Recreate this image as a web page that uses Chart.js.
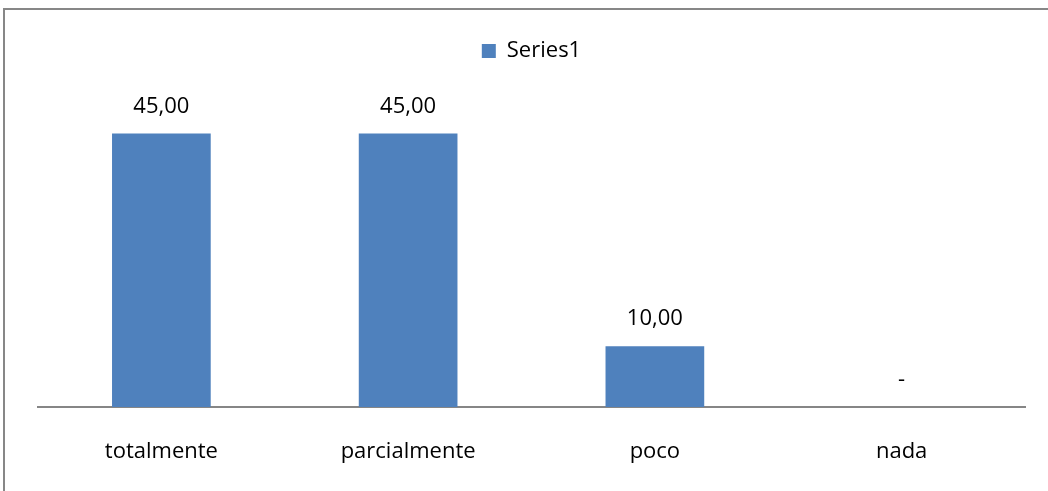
<!DOCTYPE html>
<html>
<head>
<meta charset="utf-8">
<script src="https://cdn.jsdelivr.net/npm/chart.js@4"></script>
<style>
  html, body { margin: 0; padding: 0; background: #fff; }
  #wrap { position: relative; width: 1048px; height: 491px; overflow: hidden; }
  #frame { position: absolute; left: 3px; top: 8px; width: 1100px; height: 600px; border: 2px solid #878787; box-sizing: border-box; }
  canvas { position: absolute; left: 0; top: 0; }
</style>
</head>
<body>
<div id="wrap">
  <div id="frame"></div>
  <canvas id="c" width="1048" height="491"></canvas>
</div>
<script>
const categories = ["totalmente", "parcialmente", "poco", "nada"];
const seriesName = "Series1";
const values = [45, 45, 10, 0];

const FONT = "'Open Sans'";

const valueLabels = {
  id: 'valueLabels',
  afterDatasetsDraw(chart) {
    const ctx = chart.ctx;
    const meta = chart.getDatasetMeta(0);
    ctx.save();
    ctx.font = '22px ' + FONT;
    ctx.fillStyle = '#000';
    ctx.textAlign = 'center';
    ctx.textBaseline = 'middle';
    meta.data.forEach((bar, i) => {
      const v = chart.data.datasets[0].data[i];
      const txt = v === 0 ? '-' : v.toFixed(2).replace('.', ',');
      ctx.fillText(txt, bar.x, bar.y - 27);
    });
    ctx.restore();
  }
};

const legendGap = {
  id: 'legendGap',
  afterInit(chart) {
    const lg = chart.legend;
    if (!lg) return;
    const f = lg.fit;
    lg.fit = function () { f.call(this); this.height += 31; };
  }
};

new Chart(document.getElementById('c'), {
  type: 'bar',
  data: {
    labels: categories,
    datasets: [{
      label: seriesName,
      data: values,
      backgroundColor: '#4F81BD',
      borderWidth: 0,
      categoryPercentage: 0.8,
      barPercentage: 0.5
    }]
  },
  options: {
    responsive: false,
    animation: false,
    layout: { padding: { left: 38, right: 23, top: 4, bottom: 0 } },
    plugins: {
      legend: {
        display: true,
        position: 'top',
        labels: {
          boxWidth: 14, boxHeight: 14,
          color: '#000',
          font: { family: FONT, size: 22 },
          padding: 36
        }
      },
      tooltip: { enabled: false }
    },
    scales: {
      y: { display: false, min: 0, max: 50 },
      x: {
        grid: { display: false, drawTicks: false },
        border: { display: true, color: '#868686', width: 2 },
        ticks: { color: '#000', font: { family: FONT, size: 22 }, padding: 32 },
        afterFit(scale) { scale.height = 84; }
      }
    }
  },
  plugins: [legendGap, valueLabels]
});
</script>
</body>
</html>
